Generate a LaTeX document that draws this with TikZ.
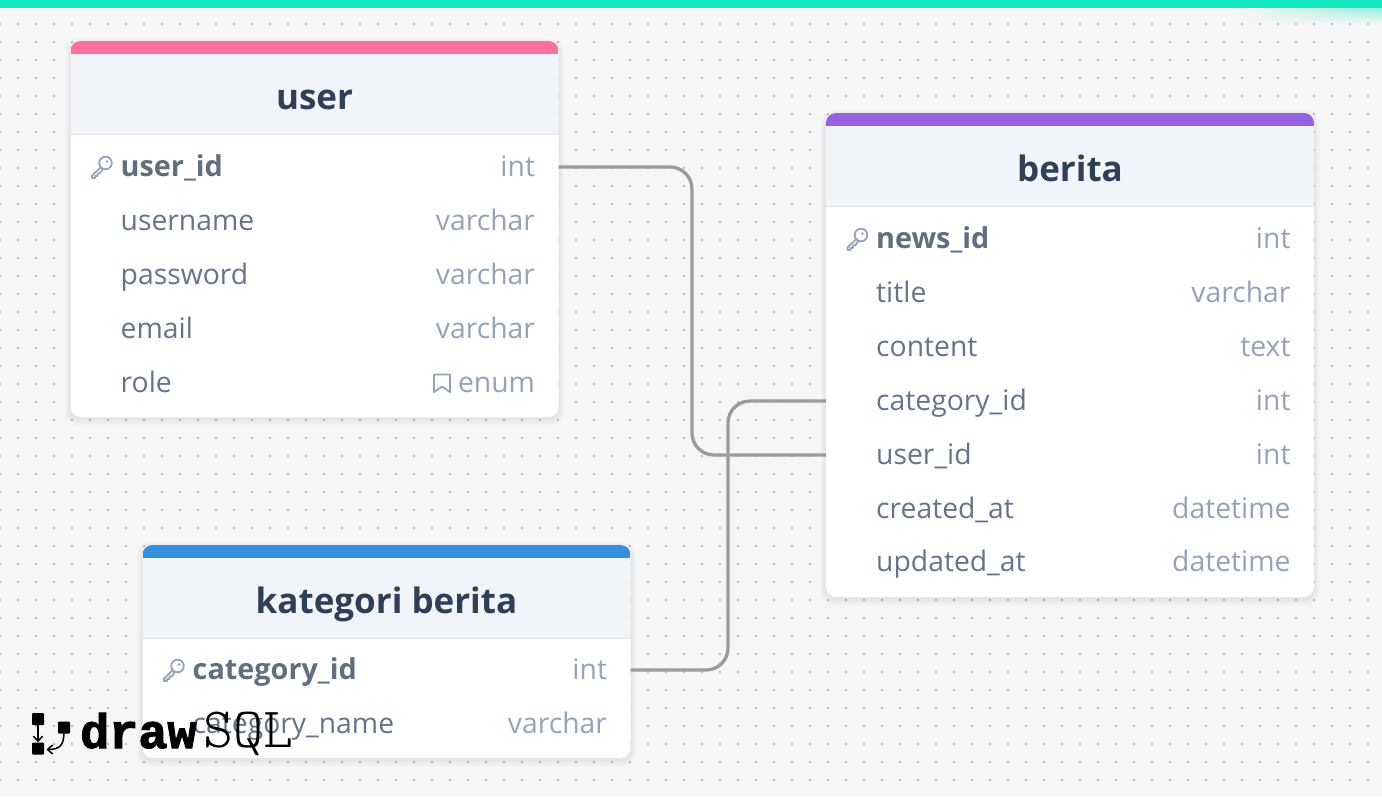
\documentclass[tikz,border=0pt]{standalone}
\usepackage{fontspec}
\setmainfont{Open Sans}
\newfontfamily\logodraw{Liberation Mono}[BoldFeatures={FakeBold=2.2}]
\setmonofont{Latin Modern Mono Light}
\usetikzlibrary{fadings,arrows.meta}
\definecolor{pagebg}{HTML}{F6F6F6}
\definecolor{dotc}{HTML}{BDBDBD}
\definecolor{teal}{HTML}{14E8BF}
\definecolor{headbg}{HTML}{F1F5F9}
\definecolor{headline}{HTML}{DCE4EE}
\definecolor{titlec}{HTML}{2F3F58}
\definecolor{fieldc}{HTML}{64748B}
\definecolor{keyc}{HTML}{5F6F80}
\definecolor{typec}{HTML}{94A3B8}
\definecolor{relc}{HTML}{9B9B9B}
\definecolor{pinkc}{HTML}{FB7199}
\definecolor{purplec}{HTML}{9661E0}
\definecolor{bluec}{HTML}{3490DC}
\tikzset{
  x=1pt,y=-1pt,
  tablebody/.style={fill=white,rounded corners=10pt,anchor=north west,inner sep=0pt,outer sep=0pt},
  rowbox/.style={inner sep=0pt,outer sep=0pt,minimum width=#1,minimum height=54pt},
  tabletitle/.style={anchor=base,inner sep=0pt,text=titlec,font=\fontsize{35}{40}\selectfont\bfseries},
  fieldname/.style={anchor=base west,inner sep=0pt,text=fieldc,font=\fontsize{28.3}{32}\selectfont},
  keyname/.style={anchor=base west,inner sep=0pt,text=keyc,font=\fontsize{28.8}{32}\selectfont\bfseries},
  fieldtype/.style={anchor=base east,inner sep=0pt,text=typec,font=\fontsize{28.3}{32}\selectfont},
  relation/.style={draw=relc,line width=3.3pt,rounded corners=22pt},
  iconline/.style={draw=typec,line width=1.8pt,line cap=round,line join=round},
  logobox/.style={fill=black,inner sep=0pt,minimum width=12pt,minimum height=12pt,rounded corners=1pt},
  logoarrow/.style={draw=black,line width=1.5pt,-{Straight Barb[length=5pt,width=9pt]}},
}
% #1 id, #2 left, #3 top, #4 bottom, #5 colour, #6 title
\newcommand{\dbtable}[6]{
  \foreach \i in {1,...,6}{
    \fill[black,opacity=0.012,rounded corners=12pt]
      ({#2-\i*0.9},{#3+3-\i*0.9}) rectangle ({#2+488+\i*0.9},{#4+2+\i*1.1});
  }
  \node[tablebody,minimum width=488pt,minimum height={(#4-#3)*1pt}] (#1) at (#2,#3) {};
  \begin{scope}
    \clip[rounded corners=10pt] (#2,#3) rectangle ({#2+488},#4);
    \fill[headbg] (#2,#3) rectangle ({#2+488},{#3+93});
    \fill[#5] (#2,#3) rectangle ({#2+488},{#3+13});
    \draw[headline,line width=1pt] (#2,{#3+93.5}) -- ({#2+488},{#3+93.5});
  \end{scope}
  \node[tabletitle] (#1title) at ({#2+244},{#3+68}) {#6};
}
% #1 id, #2 left, #3 line y, #4 name style, #5 name, #6 type
\newcommand{\dbrow}[6]{
  \node[rowbox=488pt] (#1) at ({#2+244},#3) {};
  \node[#4] (#1n) at ({#2+50},{#3+9}) {#5};
  \node[fieldtype] (#1t) at ({#2+464.7},{#3+9}) {#6};
}
\newcommand{\keyicon}[2]{
  \begin{scope}[shift={(#1,#2)}]
    \draw[iconline] (15,-4) circle (6.3);
    \draw[iconline] (10.5,0) -- (1.5,8.5) -- (1.5,11) -- (4.5,11) -- (4.5,9) -- (7,9) -- (7,6.5) -- (9,6.5) -- (12.5,2);
    \fill[typec] (16.5,-5.5) circle (1.3);
  \end{scope}
}
\begin{document}
\begin{tikzpicture}
\useasboundingbox (0,0) rectangle (1382,796);
\fill[pagebg] (0,0) rectangle (1382,796);
% dot grid
\fill[dotc] foreach \x in {0,18,...,1386}{ foreach \y in {6,24,...,800}{ ({\x-0.8},{\y-0.8}) rectangle ({\x+0.8},{\y+0.8}) } };
% glow and top bar
\shade[left color=pagebg,right color=teal!45!pagebg,path fading=south] (1240,8) rectangle (1382,24);
\fill[teal] (0,0) rectangle (1382,8);

% tables
\dbtable{user}{70.5}{41}{417}{pinkc}{user}
\dbrow{uA}{70.5}{167}{keyname}{user\_id}{int}
\dbrow{uB}{70.5}{221}{fieldname}{username}{varchar}
\dbrow{uC}{70.5}{275}{fieldname}{password}{varchar}
\dbrow{uD}{70.5}{329}{fieldname}{email}{varchar}
\dbrow{uE}{70.5}{383}{fieldname}{role}{enum}
\keyicon{90.5}{167}
\draw[iconline] (434,374.5) -- (450,374.5) -- (450,392) -- (442,386.5) -- (434,392) -- cycle;

\dbtable{berita}{826}{113}{597}{purplec}{berita}
\dbrow{bA}{826}{239}{keyname}{news\_id}{int}
\dbrow{bB}{826}{293}{fieldname}{title}{varchar}
\dbrow{bC}{826}{347}{fieldname}{content}{text}
\dbrow{bD}{826}{401}{fieldname}{category\_id}{int}
\dbrow{bE}{826}{455}{fieldname}{user\_id}{int}
\dbrow{bF}{826}{509}{fieldname}{created\_at}{datetime}
\dbrow{bG}{826}{562}{fieldname}{updated\_at}{datetime}
\keyicon{846}{239}

\dbtable{kategori}{142.5}{545}{758}{bluec}{kategori berita}
\dbrow{kA}{142.5}{670}{keyname}{category\_id}{int}
\dbrow{kB}{142.5}{724}{fieldname}{category\_name}{varchar}
\keyicon{162.5}{670}

% connectors
\coordinate (bendA) at (692,300);
\coordinate (bendB) at (728,500);
\draw[relation] (uA.east) -| (bendA) |- (bE.west);
\draw[relation] (kA.east) -| (bendB) |- (bD.west);

% logo
\node[logobox] (logoA) at (38,719) {};
\node[logobox] (logoB) at (38,748.5) {};
\node[logobox] (logoC) at (64,727.5) {};
\draw[logoarrow] (logoA.south) -- (logoB.north);
\draw[logoarrow] (logoC.south) .. controls (63.5,745) and (60,749.5) .. (46.5,749.5);
\node[anchor=base west,inner sep=0pt,font=\logodraw\bfseries\fontsize{48.5}{50}\selectfont] (logoDraw) at (80,748) {draw};
\node[anchor=base west,inner sep=0pt,font=\ttfamily\fontsize{57}{60}\selectfont] (logoSql) at (203,747) {SQL};
\end{tikzpicture}
\end{document}
